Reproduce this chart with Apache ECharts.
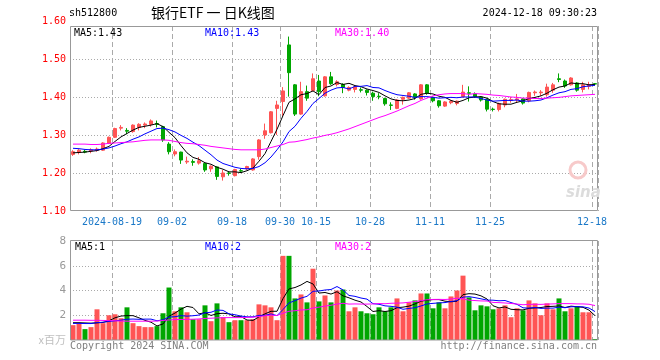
<!DOCTYPE html>
<html><head><meta charset="utf-8">
<script src="https://cdn.jsdelivr.net/npm/echarts@6/dist/echarts.min.js"></script>
<style>html,body{margin:0;padding:0;background:#fff}#c{width:660px;height:360px}</style>
</head><body><div id="c"></div>
<script>
const dates = ['2024-08-08','2024-08-09','2024-08-12','2024-08-13','2024-08-14','2024-08-15','2024-08-16','2024-08-19','2024-08-20','2024-08-21',
'2024-08-22','2024-08-23','2024-08-26','2024-08-27','2024-08-28','2024-08-29','2024-08-30','2024-09-02','2024-09-03','2024-09-04',
'2024-09-05','2024-09-06','2024-09-09','2024-09-10','2024-09-11','2024-09-12','2024-09-13','2024-09-18','2024-09-19','2024-09-20',
'2024-09-23','2024-09-24','2024-09-25','2024-09-26','2024-09-27','2024-09-30','2024-10-08','2024-10-09','2024-10-10','2024-10-11',
'2024-10-14','2024-10-15','2024-10-16','2024-10-17','2024-10-18','2024-10-21','2024-10-22','2024-10-23','2024-10-24','2024-10-25',
'2024-10-28','2024-10-29','2024-10-30','2024-10-31','2024-11-01','2024-11-04','2024-11-05','2024-11-06','2024-11-07','2024-11-08',
'2024-11-11','2024-11-12','2024-11-13','2024-11-14','2024-11-15','2024-11-18','2024-11-19','2024-11-20','2024-11-21','2024-11-22',
'2024-11-25','2024-11-26','2024-11-27','2024-11-28','2024-11-29','2024-12-02','2024-12-03','2024-12-04','2024-12-05','2024-12-06',
'2024-12-09','2024-12-10','2024-12-11','2024-12-12','2024-12-13','2024-12-16','2024-12-17','2024-12-18'];
const labelDates = ['2024-08-19','2024-09-02','2024-09-18','2024-09-30','2024-10-15','2024-10-28','2024-11-11','2024-11-25','2024-12-18'];
const priceTicks = ['1.10','1.20','1.30','1.40','1.50','1.60'];
const volTicks = ['x百万','2','4','6','8'];

const openP = [1.249,1.254,1.257,1.258,1.260,1.260,1.278,1.294,1.318,1.312,
 1.309,1.320,1.326,1.328,1.330,1.322,1.276,1.250,1.255,1.229,
 1.230,1.226,1.225,1.211,1.216,1.190,1.200,1.193,1.206,1.211,
 1.208,1.243,1.300,1.306,1.370,1.388,1.537,1.432,1.355,1.414,
 1.417,1.442,1.403,1.453,1.433,1.433,1.418,1.420,1.419,1.418,
 1.410,1.402,1.396,1.379,1.370,1.394,1.397,1.408,1.395,1.432,
 1.399,1.390,1.376,1.385,1.383,1.401,1.411,1.408,1.400,1.394,
 1.368,1.367,1.379,1.391,1.392,1.395,1.390,1.411,1.411,1.406,
 1.418,1.448,1.442,1.432,1.437,1.420,1.428,1.435];
const closeP = [1.256,1.260,1.255,1.261,1.263,1.279,1.294,1.317,1.320,1.310,
 1.326,1.328,1.329,1.337,1.328,1.287,1.256,1.256,1.234,1.231,
 1.228,1.232,1.208,1.218,1.191,1.200,1.199,1.209,1.205,1.217,
 1.237,1.287,1.311,1.361,1.379,1.416,1.464,1.355,1.414,1.397,
 1.448,1.414,1.453,1.435,1.440,1.425,1.425,1.427,1.418,1.412,
 1.401,1.401,1.382,1.378,1.392,1.399,1.411,1.399,1.432,1.410,
 1.390,1.377,1.387,1.389,1.389,1.413,1.410,1.401,1.392,1.368,
 1.367,1.383,1.394,1.393,1.395,1.384,1.412,1.413,1.413,1.426,
 1.432,1.446,1.429,1.450,1.418,1.432,1.432,1.434];
const lowP = [1.245,1.249,1.252,1.252,1.256,1.258,1.276,1.292,1.312,1.302,
 1.306,1.312,1.318,1.322,1.320,1.282,1.249,1.244,1.224,1.224,
 1.219,1.222,1.203,1.203,1.182,1.180,1.193,1.191,1.200,1.208,
 1.206,1.235,1.290,1.304,1.300,1.350,1.401,1.350,1.353,1.390,
 1.415,1.402,1.401,1.432,1.428,1.410,1.415,1.412,1.412,1.404,
 1.390,1.394,1.377,1.366,1.368,1.380,1.395,1.393,1.393,1.406,
 1.386,1.372,1.374,1.381,1.378,1.399,1.388,1.398,1.388,1.362,
 1.362,1.362,1.373,1.385,1.386,1.380,1.386,1.403,1.403,1.401,
 1.411,1.439,1.424,1.430,1.414,1.412,1.420,1.430];
const highP = [1.260,1.263,1.261,1.265,1.267,1.281,1.296,1.319,1.326,1.318,
 1.328,1.331,1.333,1.341,1.338,1.324,1.281,1.262,1.256,1.243,
 1.236,1.242,1.226,1.220,1.217,1.208,1.204,1.211,1.211,1.219,
 1.239,1.289,1.330,1.363,1.390,1.426,1.559,1.434,1.440,1.430,
 1.462,1.458,1.455,1.466,1.444,1.436,1.428,1.430,1.425,1.420,
 1.414,1.410,1.398,1.386,1.394,1.401,1.413,1.410,1.434,1.434,
 1.401,1.392,1.389,1.391,1.391,1.432,1.428,1.412,1.402,1.396,
 1.372,1.385,1.396,1.400,1.408,1.397,1.414,1.417,1.418,1.435,
 1.437,1.462,1.446,1.452,1.439,1.440,1.440,1.436];
const ma5 = [1.253,1.254,1.255,1.257,1.259,1.264,1.270,1.283,1.295,1.304,
 1.313,1.320,1.323,1.326,1.330,1.322,1.307,1.293,1.272,1.253,
 1.241,1.236,1.227,1.223,1.215,1.210,1.203,1.203,1.201,1.206,
 1.213,1.231,1.251,1.283,1.315,1.351,1.386,1.395,1.406,1.409,
 1.416,1.406,1.425,1.429,1.438,1.433,1.436,1.430,1.427,1.421,
 1.417,1.412,1.403,1.395,1.391,1.390,1.392,1.396,1.407,1.410,
 1.408,1.402,1.399,1.391,1.386,1.391,1.398,1.400,1.401,1.397,
 1.388,1.382,1.381,1.381,1.386,1.390,1.396,1.399,1.403,1.410,
 1.419,1.426,1.429,1.437,1.435,1.435,1.432,1.433];
const ma10 = [1.265,1.264,1.262,1.261,1.261,1.263,1.266,1.271,1.277,1.282,
 1.289,1.295,1.303,1.310,1.317,1.318,1.314,1.308,1.299,1.291,
 1.281,1.272,1.260,1.248,1.234,1.225,1.220,1.215,1.212,1.211,
 1.212,1.217,1.227,1.242,1.261,1.282,1.309,1.323,1.344,1.362,
 1.383,1.396,1.410,1.418,1.424,1.425,1.421,1.428,1.428,1.430,
 1.425,1.424,1.417,1.411,1.406,1.404,1.402,1.399,1.401,1.401,
 1.399,1.397,1.398,1.399,1.398,1.400,1.400,1.400,1.396,1.392,
 1.389,1.390,1.391,1.391,1.392,1.389,1.389,1.390,1.392,1.398,
 1.405,1.411,1.414,1.420,1.422,1.427,1.429,1.431];
const ma30 = [1.276,1.276,1.276,1.275,1.275,1.276,1.278,1.279,1.280,1.281,
 1.282,1.284,1.286,1.287,1.287,1.287,1.286,1.283,1.280,1.278,
 1.277,1.275,1.273,1.270,1.268,1.266,1.264,1.262,1.261,1.261,
 1.261,1.261,1.263,1.267,1.271,1.275,1.281,1.282,1.285,1.288,
 1.292,1.295,1.299,1.302,1.306,1.311,1.316,1.322,1.328,1.334,
 1.340,1.346,1.351,1.357,1.363,1.370,1.377,1.383,1.391,1.397,
 1.403,1.406,1.408,1.409,1.409,1.409,1.407,1.409,1.408,1.407,
 1.405,1.404,1.402,1.400,1.399,1.397,1.397,1.396,1.396,1.397,
 1.398,1.399,1.401,1.403,1.404,1.405,1.406,1.407];
const volume = [1.20,1.33,0.88,1.04,2.48,1.36,2.00,2.08,1.76,2.64,
 1.36,1.12,1.04,1.04,1.12,2.16,4.24,2.32,2.64,2.24,
 1.68,1.68,2.80,1.52,2.96,1.84,1.44,1.60,1.60,1.60,
 1.68,2.88,2.80,2.64,1.60,6.80,6.80,3.36,3.68,3.04,
 5.76,3.12,3.60,3.04,4.00,4.08,2.32,2.64,2.32,2.16,
 2.08,2.64,2.32,2.64,3.36,2.32,3.04,3.20,3.76,3.76,
 2.56,3.04,2.56,3.52,4.00,5.20,3.44,2.40,2.80,2.72,
 2.48,2.56,2.80,1.84,2.56,2.40,3.20,2.96,2.00,2.96,
 2.48,3.36,2.32,2.56,2.72,2.24,2.24,0.08];
const vma5 = [1.40,1.40,1.38,1.36,1.386,1.418,1.552,1.792,1.936,1.968,
 1.968,1.792,1.584,1.44,1.136,1.296,1.92,2.176,2.496,2.72,
 2.624,2.112,2.208,1.984,2.128,2.16,2.112,1.872,1.888,1.616,
 1.584,1.872,2.112,2.32,2.32,3.344,4.128,4.24,4.448,4.736,
 4.528,3.792,3.84,3.712,3.904,3.568,3.408,3.216,3.072,2.704,
 2.304,2.368,2.304,2.368,2.608,2.656,2.736,2.912,3.136,3.216,
 3.264,3.264,3.136,3.088,3.136,3.664,3.744,3.712,3.568,3.312,
 2.768,2.592,2.672,2.48,2.448,2.432,2.56,2.592,2.624,2.704,
 2.72,2.752,2.624,2.736,2.688,2.64,2.416,1.968];
const vma10 = [1.34,1.34,1.33,1.33,1.40,1.44,1.50,1.55,1.60,1.677,
 1.693,1.672,1.688,1.688,1.552,1.632,1.856,1.88,1.968,1.928,
 1.96,2.016,2.192,2.24,2.424,2.392,2.112,2.04,1.936,1.872,
 1.872,1.992,1.992,2.104,1.968,2.464,3.0,3.176,3.384,3.528,
 3.936,3.96,4.04,4.08,4.32,4.048,3.6,3.528,3.392,3.304,
 2.936,2.888,2.76,2.72,2.656,2.48,2.552,2.608,2.752,2.912,
 2.96,3.0,3.024,3.112,3.176,3.464,3.504,3.424,3.328,3.224,
 3.216,3.168,3.192,3.024,2.88,2.6,2.576,2.632,2.552,2.576,
 2.576,2.656,2.608,2.68,2.696,2.68,2.584,2.296];
const vma30 = [1.60,1.60,1.60,1.59,1.59,1.58,1.57,1.55,1.53,1.52,
 1.52,1.52,1.52,1.52,1.53,1.58,1.62,1.65,1.66,1.67,
 1.68,1.70,1.74,1.76,1.79,1.80,1.81,1.81,1.81,1.826,
 1.842,1.893,1.957,2.011,1.981,2.163,2.323,2.365,2.429,2.443,
 2.589,2.656,2.741,2.808,2.904,2.968,2.904,2.915,2.904,2.901,
 2.915,2.947,2.931,2.968,2.981,2.997,3.051,3.104,3.176,3.248,
 3.277,3.283,3.275,3.304,3.384,3.331,3.219,3.187,3.157,3.147,
 3.037,3.019,2.992,2.952,2.904,2.848,2.877,2.888,2.877,2.904,
 2.917,2.941,2.941,2.939,2.917,2.915,2.888,2.784];
const priceLegend = ['MA5:1.43','MA10:1.43','MA30:1.40'];
const volLegend = ['MA5:1','MA10:2','MA30:2'];
const header = {code:'sh512800', title:'银行ETF 一 日K线图', time:'2024-12-18 09:30:23'};
const footer = {left:'Copyright 2024 SINA.COM', right:'http://finance.sina.com.cn'};

const UP = '#ff5555', DOWN = '#00a600';
const MONO = '"DejaVu Sans Mono", monospace';
const candles = dates.map((d,i)=>[openP[i], closeP[i], lowP[i], highP[i]]);
const volBars = volume.map((v,i)=>({value:v, itemStyle:{color: closeP[i] >= openP[i] ? UP : DOWN}}));
const isLabel = (idx, val) => labelDates.indexOf(val !== undefined ? val : dates[idx]) >= 0;
const splitX = {show:true, interval:(idx)=>labelDates.indexOf(dates[idx])>=0, lineStyle:{color:'#aaa', type:[5,3], width:1}};

function txt(x,y,text,fill,font,align){
  return {type:'text', x:x, y:y, silent:true, z:200,
    style:{text:text, fill:fill, font:font, align:align||'left', textAlign:align||'left', verticalAlign:'middle', textVerticalAlign:'middle'}};
}
const lineS = (data,color,xi,yi)=>({type:'line', data:data, xAxisIndex:xi, yAxisIndex:yi, symbol:'none', showSymbol:false,
  lineStyle:{color:color, width:1}, itemStyle:{color:color}, z:5, animation:false});

const chart = echarts.init(document.getElementById('c'), null, {renderer:'canvas'});
chart.setOption({
  animation:false,
  backgroundColor:'#fff',
  grid:[{left:70, top:26, width:528, height:185, show:false},
        {left:70, top:241, width:528, height:99, show:false}],
  xAxis:[
    {type:'category', gridIndex:0, data:dates, boundaryGap:true,
     axisLine:{show:false}, axisTick:{show:false},
     axisLabel:{interval:(idx,val)=>labelDates.indexOf(val)>=0, color:'#1a78c8', fontFamily:MONO, fontSize:10, margin:6,
       padding:[0,6,0,0], formatter:(v)=> v===labelDates[0] ? v : v.slice(5)},
     splitLine:splitX},
    {type:'category', gridIndex:1, data:dates, boundaryGap:true,
     axisLine:{show:false}, axisTick:{show:false}, axisLabel:{show:false}, splitLine:splitX}
  ],
  yAxis:[
    {type:'value', gridIndex:0, min:1.1, max:1.5868, interval:0.1,
     axisLine:{show:false}, axisTick:{show:false},
     axisLabel:{color:'#ff0000', fontFamily:MONO, fontSize:10, margin:4,
       formatter:(v)=>{ const k=Math.round((v-1.1)/0.1); return v>1.55 ? '{t|'+priceTicks[5]+'}' : priceTicks[k]; },
       rich:{t:{color:'#ff0000', fontFamily:MONO, fontSize:10, padding:[0,0,10,0]}}},
     splitLine:{show:true, showMinLine:false, showMaxLine:false, lineStyle:{color:'#aaa', type:[1,2]}}},
    {type:'value', gridIndex:1, min:0, max:8, interval:2,
     axisLine:{show:false}, axisTick:{show:false},
     axisLabel:{color:'#999', fontFamily:MONO, fontSize:11, margin:4,
       formatter:(v)=> v===0 ? '{u|'+volTicks[0]+'}' : volTicks[v/2],
       rich:{u:{color:'#c0c0c0', fontFamily:'"Noto Sans CJK SC"', fontSize:11}}},
     splitLine:{show:true, showMinLine:false, showMaxLine:false, lineStyle:{color:'#aaa', type:[1,2]}}}
  ],
  series:[
    {type:'candlestick', xAxisIndex:0, yAxisIndex:0, data:candles, barWidth:4,
     itemStyle:{color:UP, color0:DOWN, borderColor:UP, borderColor0:DOWN, borderWidth:1}, z:3},
    lineS(ma5,'#000000',0,0), lineS(ma10,'#0000ff',0,0), lineS(ma30,'#ff00ff',0,0),
    {type:'bar', xAxisIndex:1, yAxisIndex:1, data:volBars, barWidth:5, z:3},
    lineS(vma5,'#000000',1,1), lineS(vma10,'#0000ff',1,1), lineS(vma30,'#ff00ff',1,1)
  ],
  graphic:[
    {type:'rect', silent:true, z:150, shape:{x:70.5, y:26.5, width:527, height:184}, style:{fill:null, stroke:'#999', lineWidth:1}},
    {type:'rect', silent:true, z:150, shape:{x:70.5, y:240.5, width:527, height:99.5}, style:{fill:null, stroke:'#999', lineWidth:1}},
    txt(69,13,header.code,'#000','10px '+MONO),
    txt(151,13,header.title,'#000','14px "Noto Sans CJK SC"'),
    txt(597,13,header.time,'#000','10px '+MONO,'right'),
    txt(74,33,priceLegend[0],'#000','10px '+MONO),
    txt(205,33,priceLegend[1],'#0000ff','10px '+MONO),
    txt(335,33,priceLegend[2],'#ff00ff','10px '+MONO),
    txt(75,247,volLegend[0],'#000','10px '+MONO),
    txt(205,247,volLegend[1],'#0000ff','10px '+MONO),
    txt(335,247,volLegend[2],'#ff00ff','10px '+MONO),
    txt(70,346,footer.left,'#808080','10px '+MONO),
    txt(597,346,footer.right,'#808080','10px '+MONO,'right'),
    {type:'circle', silent:true, z:1, shape:{cx:578, cy:170, r:8}, style:{fill:null, stroke:'#f7caca', lineWidth:3}},
    txt(566,193,'sina','#dcdcdc','italic bold 15px "DejaVu Sans"')
  ]
});
</script></body></html>
